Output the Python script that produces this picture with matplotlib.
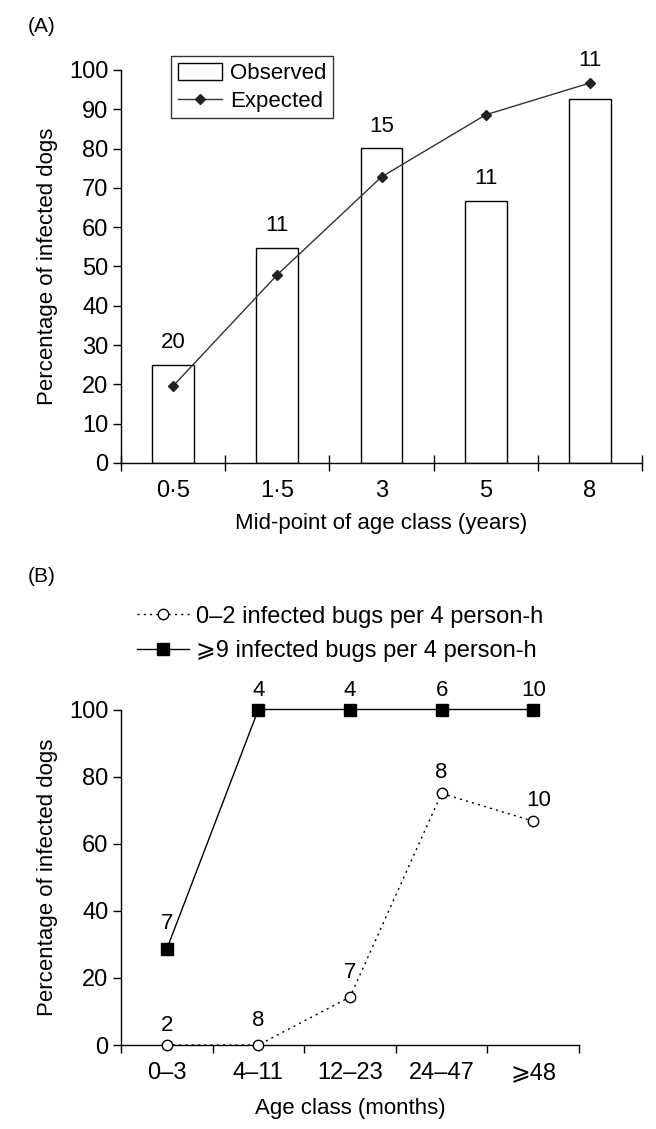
import matplotlib
matplotlib.use("Agg")
import matplotlib.pyplot as plt
import numpy as np

plt.rcParams['font.family'] = ['Liberation Sans', 'DejaVu Sans']

# Panel A data
age_mid = ["0·5", "1·5", "3", "5", "8"]
observed = [25.0, 54.8, 80.2, 66.7, 92.5]
expected = [19.6, 47.9, 72.8, 88.6, 96.7]
n_dogs_a = ["20", "11", "15", "11", "11"]
label_y_a = [30.6, 60.5, 85.7, 72.4, 102.5]

# Panel B data
age_class = ["0\u20133", "4\u201311", "12\u201323", "24\u201347", "\u2a7e48"]
low_bugs = [0.0, 0.0, 14.3, 75.0, 66.7]
high_bugs = [28.6, 100.0, 100.0, 100.0, 100.0]
n_low = ["2", "8", "7", "8", "10"]
n_high = ["7", "4", "4", "6", "10"]
label_y_low = [5.8, 7.4, 21.5, 81.3, 73.0]
label_y_high = [36.1, 105.8, 105.8, 105.8, 105.8]
low_name = "0\u20132 infected bugs per 4 person-h"
high_name = "\u2a7e9 infected bugs per 4 person-h"

W, H = 656, 1129
fig = plt.figure(figsize=(W / 100, H / 100), dpi=100)

FS = 16
TFS = 17
lw = 1.0

# ---------- Panel A ----------
axA = fig.add_axes([121 / W, 1 - 463 / H, (642 - 121) / W, (463 - 70) / H])
x = np.arange(len(age_mid))
bars = axA.bar(x, observed, width=0.4, color='white', edgecolor='black', linewidth=1.0,
               label='Observed', zorder=2)
ln, = axA.plot(x, expected, color='#333333', lw=1.0, marker='D', markersize=5,
               markerfacecolor='#222222', markeredgecolor='#222222', label='Expected', zorder=3)
for xi, t, yv in zip(x, n_dogs_a, label_y_a):
    axA.text(xi, yv, t, ha='center', va='center', fontsize=FS)
axA.set_xlim(-0.5, len(age_mid) - 0.5)
axA.set_ylim(0, 100)
axA.set_yticks(np.arange(0, 101, 10))
axA.set_xticks(np.arange(-0.5, len(age_mid), 1.0))
axA.set_xticklabels([])
axA.set_xticks(x, minor=True)
axA.set_xticklabels(age_mid, minor=True, fontsize=TFS)
axA.tick_params(axis='x', which='major', direction='inout', length=12, width=lw)
axA.tick_params(axis='x', which='minor', length=0, pad=12)
axA.tick_params(axis='y', direction='out', length=6, width=lw, labelsize=TFS, pad=3)
for s in ['top', 'right']:
    axA.spines[s].set_visible(False)
for s in ['left', 'bottom']:
    axA.spines[s].set_linewidth(lw)
axA.set_ylabel('Percentage of infected dogs', fontsize=FS, labelpad=8)
axA.set_xlabel('Mid-point of age class (years)', fontsize=FS, labelpad=8)
legA = axA.legend([bars, ln], ['Observed', 'Expected'], loc='upper left',
                  bbox_to_anchor=(0.096, 1.036), fontsize=FS,
                  frameon=True, fancybox=False, edgecolor='black', handlelength=2.0,
                  handleheight=0.8, handletextpad=0.35, borderpad=0.3, labelspacing=0.3,
                  borderaxespad=0)
legA.get_frame().set_linewidth(1.0)
fig.text(42 / W, 1 - 27 / H, '(A)', fontsize=15, ha='center', va='center')

# ---------- Panel B ----------
axB = fig.add_axes([121 / W, 1 - 1045 / H, (579 - 121) / W, (1045 - 709.5) / H])
xb = np.arange(len(age_class))
l1, = axB.plot(xb, low_bugs, color='black', lw=1.0, linestyle=(0, (1.5, 3)), marker='o',
               markersize=7.5, markerfacecolor='white', markeredgecolor='black',
               markeredgewidth=1.0, clip_on=False, zorder=3)
l2, = axB.plot(xb, high_bugs, color='black', lw=1.0, linestyle='-', marker='s',
               markersize=8.5, markerfacecolor='black', markeredgecolor='black',
               clip_on=False, zorder=3)
for xi, t, yv in zip(xb, n_low, label_y_low):
    axB.text(xi + (0.06 if t == '10' else 0), yv, t, ha='center', va='center', fontsize=FS)
for xi, t, yv in zip(xb, n_high, label_y_high):
    axB.text(xi, yv, t, ha='center', va='center', fontsize=FS)
axB.set_xlim(-0.5, len(age_class) - 0.5)
axB.set_ylim(0, 100)
axB.set_yticks(np.arange(0, 101, 20))
axB.set_xticks(np.arange(-0.5, len(age_class), 1.0))
axB.set_xticklabels([])
axB.set_xticks(xb, minor=True)
axB.set_xticklabels(age_class, minor=True, fontsize=TFS,
                    fontfamily=['Liberation Sans', 'DejaVu Sans'])
axB.tick_params(axis='x', which='major', direction='out', length=6, width=lw)
axB.tick_params(axis='x', which='minor', length=0, pad=12)
axB.tick_params(axis='y', direction='out', length=6, width=lw, labelsize=TFS, pad=3)
for s in ['top', 'right']:
    axB.spines[s].set_visible(False)
for s in ['left', 'bottom']:
    axB.spines[s].set_linewidth(lw)
axB.set_ylabel('Percentage of infected dogs', fontsize=FS, labelpad=8)
axB.set_xlabel('Age class (months)', fontsize=FS, labelpad=10)
legB = fig.legend([l1, l2], [low_name, high_name], loc='center left',
                  bbox_to_anchor=(128 / W, 1 - 634 / H), fontsize=17, frameon=False,
                  handlelength=2.2, handletextpad=0.3, labelspacing=0.55,
                  borderaxespad=0)
fig.text(42 / W, 1 - 576 / H, '(B)', fontsize=15, ha='center', va='center')

fig.savefig('out.png', dpi=100)
